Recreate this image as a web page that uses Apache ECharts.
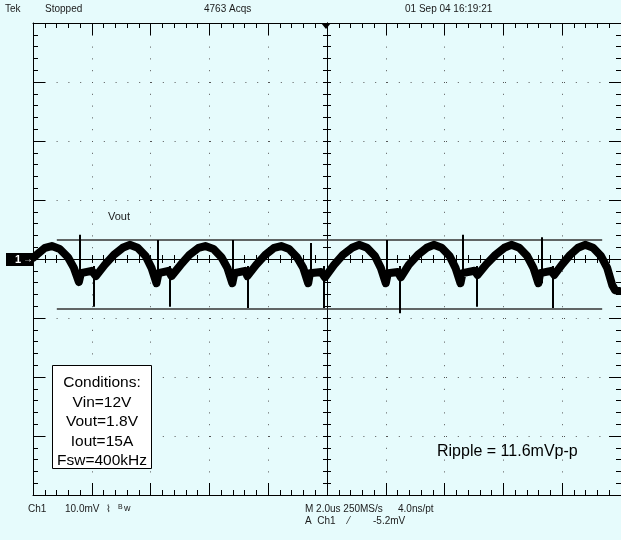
<!DOCTYPE html>
<html>
<head>
<meta charset="utf-8">
<script src="https://cdn.jsdelivr.net/npm/echarts@6/dist/echarts.min.js"></script>
<style>
  html, body { margin: 0; padding: 0; background: #e6fbfc; }
  #chart { width: 621px; height: 540px; }
</style>
</head>
<body>
<div id="chart"></div>
<script>
// time in us (trigger at 0, 2 us/div), voltage in mV (10 mV/div)
const xMin = -10, xMax = 10, xStep = 2;
const yMin = -40, yMax = 40, yStep = 10;

// centre of the thick Vout trace
const traceTime = [
  -10.00, -9.59,
  -9.36, -9.09, -8.81, -8.61, -8.44, -8.37, -8.00,
  -7.86, -7.56, -7.25, -6.95,
  -6.71, -6.44, -6.17, -5.97, -5.80, -5.73, -5.39,
  -5.29, -4.98, -4.68, -4.37,
  -4.14, -3.86, -3.59, -3.39, -3.22, -3.15, -2.78,
  -2.71, -2.41, -2.10, -1.80,
  -1.56, -1.29, -1.02, -0.81, -0.64, -0.58, -0.20,
  -0.07, 0.24, 0.54, 0.85,
  1.09, 1.36, 1.63, 1.83, 2.00, 2.07, 2.41,
  2.51, 2.78, 3.09, 3.39,
  3.63, 3.90, 4.17, 4.37, 4.54, 4.61, 5.02,
  5.12, 5.42, 5.73, 6.03,
  6.27, 6.54, 6.81, 7.02, 7.19, 7.25, 7.63,
  7.73, 8.00, 8.27, 8.54,
  8.78, 9.05, 9.32, 9.53, 9.70, 9.80, 9.93
];
const traceMv = [
  0.2, 1.9,
  2.2, 1.7, 0.3, -1.5, -3.9, -2.4, -2.0,
  -2.9, -1.0, 0.7, 1.9,
  2.4, 1.9, 0.5, -1.5, -4.1, -2.4, -2.0,
  -2.9, -1.0, 0.7, 1.9,
  2.2, 1.7, 0.3, -1.5, -4.1, -2.4, -2.0,
  -2.9, -1.0, 0.7, 1.9,
  2.2, 1.7, 0.3, -1.5, -4.1, -2.4, -2.2,
  -3.1, -1.0, 0.7, 1.9,
  2.4, 1.9, 0.5, -1.5, -4.1, -2.4, -2.2,
  -3.1, -1.0, 0.7, 1.9,
  2.4, 1.9, 0.5, -1.5, -4.1, -2.4, -2.0,
  -2.7, -0.9, 0.7, 1.9,
  2.4, 1.9, 0.5, -1.5, -4.1, -2.4, -2.0,
  -2.7, -0.9, 0.7, 1.9,
  2.4, 1.9, 0.5, -1.5, -4.4, -5.3, -5.4
];

// narrow switching spikes
const spikeUpTime = [-8.41, -5.76, -3.19, -0.54, 2.03, 4.61, 7.29];
const spikeUpTop = [4.1, 3.2, 3.2, 2.7, 3.2, 4.1, 3.7];
const spikeUpBottom = [-4.1, -4.1, -4.1, -4.1, -4.1, -4.1, -4.1];
const spikeDownTime = [-7.93, -5.36, -2.71, -0.10, 2.47, 5.08, 7.69];
const spikeDownTop = [-1.2, -1.2, -1.2, -1.2, -1.2, -1.2, -1.2];
const spikeDownBottom = [-8.1, -8.1, -8.3, -8.3, -9.2, -8.1, -8.3];

// horizontal cursors (11.6 mV apart)
const cursorLevels = [3.2, -8.4];
const cursorStart = -9.19, cursorEnd = 9.36;

const black = '#000';
const lineStyle = { color: black, width: 1 };

const markData = [];
cursorLevels.forEach((v) => {
  markData.push([{ coord: [cursorStart, v], lineStyle: { color: '#333', width: 1.5, type: 'solid' } },
                 { coord: [cursorEnd, v] }]);
});
spikeUpTime.forEach((t, i) => {
  markData.push([{ coord: [t, spikeUpTop[i]], lineStyle: { color: black, width: 2, type: 'solid' } },
                 { coord: [t, spikeUpBottom[i]] }]);
});
spikeDownTime.forEach((t, i) => {
  markData.push([{ coord: [t, spikeDownTop[i]], lineStyle: { color: black, width: 2, type: 'solid' } },
                 { coord: [t, spikeDownBottom[i]] }]);
});

const dotted = { show: true, lineStyle: { color: '#555', width: 1, type: [1, 10.8] } };

function borderAxis(position, splitLine) {
  return {
    type: 'value', position,
    axisLine: { show: true, onZero: false, lineStyle },
    axisTick: { show: true, inside: true, length: 12, lineStyle },
    minorTick: { show: true, splitNumber: 5, length: 5, lineStyle },
    axisLabel: { show: false },
    splitLine: splitLine ? dotted : { show: false },
  };
}
function centreAxis(position, inside) {
  return {
    type: 'value', position,
    axisLine: { show: true, onZero: true, onZeroAxisIndex: 0, lineStyle },
    axisTick: { show: true, inside, length: 4, lineStyle },
    minorTick: { show: true, splitNumber: 5, length: 4, lineStyle },
    axisLabel: { show: false },
    splitLine: { show: false },
  };
}

const xAxes = [borderAxis('bottom', true), borderAxis('top', false),
               centreAxis('bottom', true), centreAxis('bottom', false)]
  .map((a) => Object.assign(a, { min: xMin, max: xMax, interval: xStep }));
const yAxes = [borderAxis('left', true), borderAxis('right', false),
               centreAxis('left', true), centreAxis('left', false)]
  .map((a) => Object.assign(a, { min: yMin, max: yMax, interval: yStep }));

const font = (size) => size + 'px "Liberation Sans", Arial, sans-serif';
function label(text, x, y, size, extra) {
  return {
    type: 'text', x, y, z: 50,
    style: Object.assign({
      text, font: font(size), fill: '#1a1a1a',
      align: 'left', verticalAlign: 'middle',
      textAlign: 'left', textVerticalAlign: 'middle',
    }, extra || {}),
  };
}

const conditions = ['Conditions:', 'Vin=12V', 'Vout=1.8V', 'Iout=15A', 'Fsw=400kHz'];

const graphic = [
  label('Tek', 5, 9, 10),
  label('Stopped', 45, 9, 10),
  label('4763 Acqs', 204, 9, 10),
  label('01 Sep 04 16:19:21', 405, 9, 10),
  label('Vout', 108, 217, 11),
  { type: 'polygon', z: 50, shape: { points: [[321, 23], [331, 23], [326, 29]] }, style: { fill: black } },
  { type: 'rect', z: 50, shape: { x: 6, y: 253, width: 27, height: 13 }, style: { fill: black } },
  label('1', 15, 260, 11, { fill: '#fff', font: 'bold ' + font(11) }),
  label('\u2192', 23, 259, 10, { fill: '#fff' }),
  { type: 'rect', z: 50, shape: { x: 52.5, y: 365.5, width: 99, height: 103 },
    style: { fill: '#fff', stroke: black, lineWidth: 1 } },
  ...conditions.map((t, i) => label(t, 102, 383 + i * 19.5, 15.5, { align: 'center', textAlign: 'center', fill: '#000' })),
  label('Ripple = 11.6mVp-p', 437, 452, 16, { fill: '#000' }),
  label('Ch1', 28, 509, 10),
  label('10.0mV', 65, 509, 10),
  label('\u2307', 106, 509, 10),
  label('B', 118, 507, 7),
  label('w', 124, 509, 9),
  label('M 2.0us 250MS/s', 305, 509, 10),
  label('4.0ns/pt', 398, 509, 10),
  label('A  Ch1', 305, 521, 10),
  label('\u2044', 348, 521, 10),
  label('-5.2mV', 373, 521, 10),
];

const chart = echarts.init(document.getElementById('chart'), null, { renderer: 'canvas' });
chart.setOption({
  backgroundColor: '#e6fbfc',
  animation: false,
  grid: { left: 33, top: 23, width: 593, height: 472, containLabel: false },
  xAxis: xAxes,
  yAxis: yAxes,
  series: [{
    type: 'line',
    xAxisIndex: 0, yAxisIndex: 0,
    data: traceTime.map((t, i) => [t, traceMv[i]]),
    symbol: 'none',
    lineStyle: { color: black, width: 8, join: 'round', cap: 'round' },
    emphasis: { disabled: true },
    z: 5,
    markLine: { silent: true, symbol: 'none', label: { show: false }, animation: false, data: markData },
  }],
  graphic,
});
</script>
</body>
</html>
